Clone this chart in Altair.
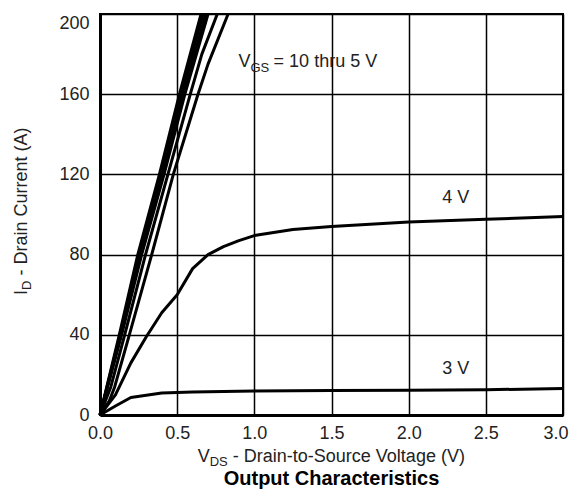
import altair as alt
import pandas as pd

# ---- data ----
x_ticks = [0.0, 0.5, 1.0, 1.5, 2.0, 2.5, 3.0]
y_ticks = [0, 40, 80, 120, 160, 200]

vgs10_v = [0.0, 0.125, 0.245, 0.385, 0.515, 0.655]
vgs10_i = [0, 40, 80, 120, 160, 200]
vgs9_v = [0.0, 0.13, 0.252, 0.395, 0.525, 0.668]
vgs9_i = [0, 40, 80, 120, 160, 200]
vgs8_v = [0.0, 0.135, 0.26, 0.405, 0.54, 0.685]
vgs8_i = [0, 40, 80, 120, 160, 200]
vgs7_v = [0.0, 0.14, 0.27, 0.415, 0.55, 0.70]
vgs7_i = [0, 40, 80, 120, 160, 200]
vgs6_v = [0.0, 0.07, 0.16, 0.295, 0.44, 0.585, 0.66, 0.76]
vgs6_i = [0, 14, 40, 80, 120, 160, 180, 200]
vgs5_v = [0.0, 0.06, 0.095, 0.19, 0.335, 0.475, 0.635, 0.70, 0.83]
vgs5_i = [0, 7, 14, 40, 80, 120, 160, 175, 200]
vgs4_v = [0.0, 0.1, 0.2, 0.3, 0.4, 0.5, 0.6, 0.7, 0.8, 0.9, 1.0, 1.25, 1.5, 2.0, 2.5, 3.0]
vgs4_i = [0, 10, 26, 39, 51, 60, 73, 80, 84, 87, 89.5, 92.5, 94, 96.3, 97.6, 99]
vgs3_v = [0.0, 0.1, 0.2, 0.4, 0.6, 1.0, 1.5, 2.0, 2.5, 3.0]
vgs3_i = [0, 4.5, 8.7, 11, 11.5, 12, 12.2, 12.3, 12.6, 13.2]

curves = {
    "10 V": (vgs10_v, vgs10_i),
    "9 V": (vgs9_v, vgs9_i),
    "8 V": (vgs8_v, vgs8_i),
    "7 V": (vgs7_v, vgs7_i),
    "6 V": (vgs6_v, vgs6_i),
    "5 V": (vgs5_v, vgs5_i),
    "4 V": (vgs4_v, vgs4_i),
    "3 V": (vgs3_v, vgs3_i),
}
rows = []
for name, (vs, cs) in curves.items():
    for k, (v, c) in enumerate(zip(vs, cs)):
        rows.append({"curve": name, "idx": k, "vds": v, "id": c})
df = pd.DataFrame(rows)

FONT = "Liberation Sans"
TXT = "#222222"
W, H = 463, 401

x_enc = alt.X("vds:Q", scale=alt.Scale(domain=[0, 3], nice=False),
              axis=alt.Axis(values=x_ticks, format=".1f", title=None, grid=True,
                            ticks=False, labelPadding=9, domainWidth=3,
                            labelAlign={"condition": {"test": "datum.value >= 3", "value": "right"},
                                        "value": "center"},
                            labelOffset={"condition": {"test": "datum.value >= 3", "value": 5},
                                         "value": 0}))
y_enc = alt.Y("id:Q", scale=alt.Scale(domain=[0, 200], nice=False),
              axis=alt.Axis(values=y_ticks, title=None, grid=True,
                            ticks=False, labelPadding=11, domainWidth=3,
                            labelBaseline={"condition": {"test": "datum.value >= 200", "value": "top"},
                                           "value": "middle"}))

lines = alt.Chart(df).mark_line(color="black", strokeWidth=3, strokeJoin="round").encode(
    x=x_enc, y=y_enc, detail="curve:N", order="idx:Q"
)

one = pd.DataFrame({"a": [0]})


def txt(text, x, y, size=18, weight="normal", align="left", angle=0, color=TXT):
    kw = dict(text=text, font=FONT, fontSize=size, fontWeight=weight, align=align,
              baseline="alphabetic", color=color)
    if angle:
        kw["angle"] = angle
    return alt.Chart(one).mark_text(**kw).encode(x=alt.value(x), y=alt.value(y))


texts = [
    # V_GS annotation
    txt("V", 138.5, 52.7),
    txt("GS", 150.5, 57.7, size=13),
    txt("= 10 thru 5 V", 173.6, 52.7),
    txt("4 V", 342.2, 188.7),
    txt("3 V", 342.3, 360.3),
    # x title
    txt("V", 97.7, 448),
    txt("DS", 109.7, 452, size=13),
    txt("- Drain-to-Source Voltage (V)", 132.8, 448),
    # y title (rotated)
    txt("I", -73.5, 281, angle=270),
    txt("D", -69.5, 276, size=13, angle=270),
    txt("- Drain Current (A)", -73.5, 261.6, angle=270),
    # chart title
    txt("Output Characteristics", 231.5, 471, size=20, weight="bold", align="center", color="black"),
]

chart = alt.layer(lines, *texts).properties(
    width=W, height=H,
    autosize=alt.AutoSizeParams(type="none"),
    padding={"left": 92, "top": 6, "right": 6, "bottom": 74},
).configure_view(stroke="black", strokeWidth=2).configure_axis(
    domainColor="black", gridColor="black", gridWidth=1.5, gridOpacity=1,
    labelFont=FONT, labelFontSize=18, labelColor=TXT,
)

chart.save("out.html", embed_options={"renderer": "svg", "actions": False})
